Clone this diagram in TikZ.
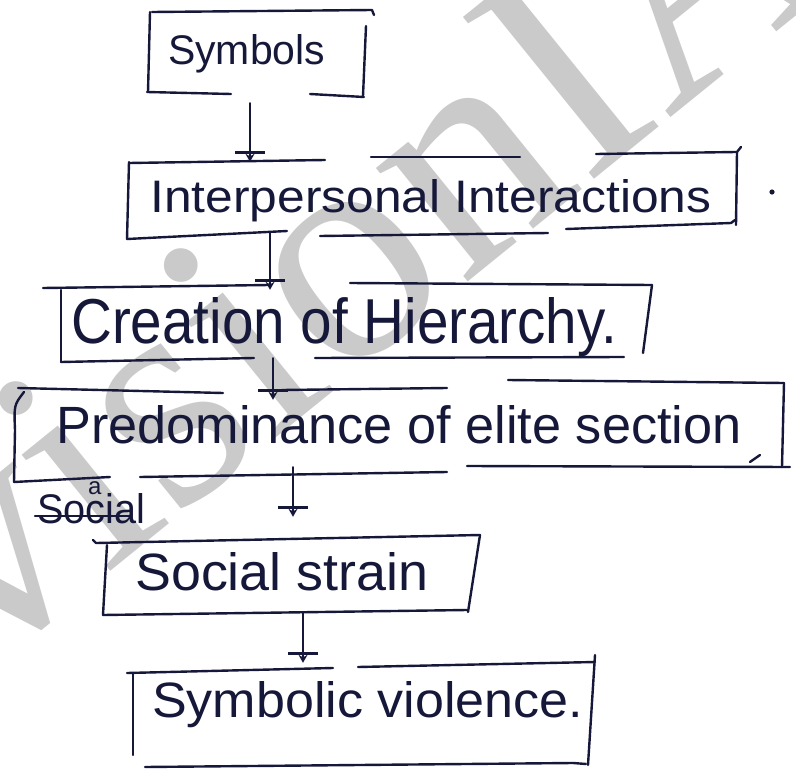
\documentclass[tikz,border=0pt]{standalone}
\usepackage{graphicx}
\usepackage{fontspec}
\setmainfont{Liberation Sans}
\newfontfamily\wmfont{Liberation Serif}
\usetikzlibrary{arrows.meta}
\definecolor{ink}{RGB}{22,24,58}
\definecolor{wmgray}{RGB}{202,202,202}
% text squeezed or stretched to a given width and height (in pt)
\newcommand\handtext[3]{\resizebox{#1pt}{#2pt}{#3}}
\begin{document}
\begin{tikzpicture}[x=1pt,y=-1pt,
  pen/.style={draw=ink,line width=2.4pt,line cap=round,line join=round},
  boxarea/.style={rectangle,inner sep=0pt,draw=none},
  handlabel/.style={anchor=base west,inner sep=0pt,text=ink},
  flow/.style={pen,-{Bar[width=30pt] Stealth[length=8pt,width=9pt]}}]
\useasboundingbox (0,0) rectangle (796,771);
\fill[white] (0,0) rectangle (796,771);

% watermark
\node[anchor=base west,inner sep=0pt,rotate=39,text=wmgray,
      font=\wmfont\fontsize{318}{318}\selectfont] (wm) at (-18.5,676) {visionIAS};

% box areas
\node[boxarea,minimum width=218pt,minimum height=83pt] (b1) at (257,52.5) {};
\node[boxarea,minimum width=610pt,minimum height=78pt] (b2) at (432,194) {};
\node[boxarea,minimum width=591pt,minimum height=73pt] (b3) at (356.5,321.5) {};
\node[boxarea,minimum width=769pt,minimum height=90pt] (b4) at (399.5,430) {};
\node[boxarea,minimum width=377pt,minimum height=74pt] (b5) at (291.5,575) {};
\node[boxarea,minimum width=462pt,minimum height=100pt] (b6) at (364,715) {};

% hand-drawn outlines
% Symbols
\draw[pen] (152,12) -- (372,10) -- (374,15);
\draw[pen] (150,12) -- (148,92);
\draw[pen] (366,26) -- (363,96);
\draw[pen] (147,92) -- (231,94);
\draw[pen] (310,94) -- (364,97);
% Interpersonal Interactions
\draw[pen] (129,163) -- (325,160);
\draw[pen] (371,157) -- (520,157);
\draw[pen] (596,154) -- (736,152);
\draw[pen] (741,147) -- (737,152) -- (736,225);
\draw[pen] (129,162) -- (127,239);
\draw[pen] (127,239) -- (287,231);
\draw[pen] (320,236) -- (548,233);
\draw[pen] (566,229) -- (731,223) -- (735,220);
\fill[ink] (772,192) circle (2.6pt);
% Creation of Hierarchy
\draw[pen] (43,288) -- (269,285);
\draw[pen] (350,283) -- (652,285);
\draw[pen] (61,290) -- (61,362);
\draw[pen] (652,285) -- (643,353);
\draw[pen] (61,362) -- (254,358);
\draw[pen] (315,358) -- (624,357);
% Predominance of elite section
\draw[pen] (18,388) -- (223,393);
\draw[pen] (282,390) -- (447,388);
\draw[pen] (508,380) -- (784,383);
\draw[pen] (24,392) .. controls (14,405) .. (15,430) -- (14,482);
\draw[pen] (784,383) -- (782,467);
\draw[pen] (14,482) -- (110,477);
\draw[pen] (140,477) -- (447,472);
\draw[pen] (467,466) -- (790,467);
\draw[pen] (750,462) -- (760,455);
% Social strain
\draw[pen] (93,540) -- (96,543) -- (480,535);
\draw[pen] (107,545) -- (103,615);
\draw[pen] (480,535) -- (468,612);
\draw[pen] (103,615) -- (467,610);
% Symbolic violence
\draw[pen] (127,673) -- (333,668);
\draw[pen] (358,667) -- (595,662);
\draw[pen] (133,673) -- (133,755);
\draw[pen] (595,655) -- (588,765);
\draw[pen] (145,767) -- (573,763) -- (586,764);

% labels
\node[handlabel] (t1) at (168,64) {\handtext{157}{30}{Symbols}};
\node[handlabel] (t2) at (150,212) {\handtext{561}{33}{Interpersonal Interactions}};
\node[handlabel] (t3) at (71,343) {\handtext{546}{46}{Creation of Hierarchy.}};
\node[handlabel] (t4) at (56,443) {\handtext{685}{38}{Predominance of elite section}};
\node[handlabel] (t5) at (135,590) {\handtext{293}{38}{Social strain}};
\node[handlabel] (t6) at (152,717) {\handtext{431}{36}{Symbolic violence.}};

% margin note, struck through, with a letter written above it
\node[handlabel] (note) at (37,523) {\handtext{108}{30}{Social}};
\node[handlabel,font=\fontsize{24}{24}\selectfont] (notea) at (88,494) {a};
\draw[pen] (35,516) -- (130,516);

% connectors
\coordinate (x1) at (250,0);
\coordinate (x2) at (270,0);
\coordinate (x3) at (273,0);
\coordinate (x4) at (293,0);
\coordinate (x5) at (303,0);
\draw[flow,shorten <=9pt,shorten >=-7pt] (b1.south -| x1) -- (b2.north -| x1);
\draw[flow,shorten >=-5pt] (b2.south -| x2) -- (b3.north -| x2);
\draw[flow,shorten >=-15pt] (b3.south -| x3) -- (b4.north -| x3);
\draw[flow,shorten <=-8pt,shorten >=21pt] (b4.south -| x4) -- (b5.north -| x4);
\draw[flow,shorten >=2pt] (b5.south -| x5) -- (b6.north -| x5);
\end{tikzpicture}
\end{document}
